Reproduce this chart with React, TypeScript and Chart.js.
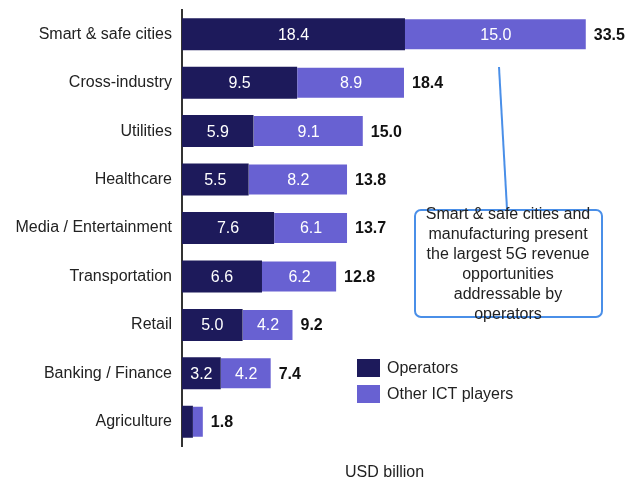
import React, { useEffect, useRef } from "react";
import { Chart, registerables } from "chart.js";

Chart.register(...registerables);

const categories = [
  "Smart & safe cities",
  "Cross-industry",
  "Utilities",
  "Healthcare",
  "Media / Entertainment",
  "Transportation",
  "Retail",
  "Banking / Finance",
  "Agriculture",
];
const operators = [18.4, 9.5, 5.9, 5.5, 7.6, 6.6, 5.0, 3.2, 0.9];
const otherICT = [15.0, 8.9, 9.1, 8.2, 6.1, 6.2, 4.2, 4.2, 0.9];
const totals = ["33.5", "18.4", "15.0", "13.8", "13.7", "12.8", "9.2", "7.4", "1.8"];
const seriesNames = ["Operators", "Other ICT players"];
const seriesColors = ["#1d1a5b", "#6861d2"];
const calloutLines = [
  "Smart & safe cities and",
  "manufacturing present",
  "the largest 5G revenue",
  "opportunities",
  "addressable by",
  "operators",
];
const unitLabel = "USD billion";

const FONT = "Arial, 'Liberation Sans', sans-serif";

const overlayPlugin = {
  id: "overlay",
  afterDatasetsDraw(chart: any) {
    const ctx = chart.ctx;
    ctx.save();
    // inner value labels
    ctx.font = `16px ${FONT}`;
    ctx.textAlign = "center";
    ctx.textBaseline = "middle";
    ctx.fillStyle = "#ffffff";
    chart.data.datasets.forEach((ds: any, di: number) => {
      const meta = chart.getDatasetMeta(di);
      meta.data.forEach((el: any, i: number) => {
        const w = Math.abs(el.x - el.base);
        if (w < 25) return;
        ctx.fillText(ds.data[i].toFixed(1), (el.x + el.base) / 2, el.y + 1);
      });
    });
    // totals
    const last = chart.getDatasetMeta(chart.data.datasets.length - 1);
    ctx.font = `bold 16px ${FONT}`;
    ctx.textAlign = "left";
    ctx.fillStyle = "#111111";
    last.data.forEach((el: any, i: number) => {
      ctx.fillText(totals[i], el.x + 7, el.y + 1);
    });
    ctx.restore();
  },
  afterDraw(chart: any) {
    const ctx = chart.ctx;
    ctx.save();
    // callout connector
    ctx.strokeStyle = "#4a8fe8";
    ctx.lineWidth = 2;
    ctx.beginPath();
    ctx.moveTo(499, 67);
    ctx.lineTo(507, 209);
    ctx.stroke();
    // callout box
    const bx = 415, by = 210, bw = 187, bh = 107, r = 6;
    ctx.beginPath();
    ctx.moveTo(bx + r, by);
    ctx.lineTo(bx + bw - r, by);
    ctx.arcTo(bx + bw, by, bx + bw, by + r, r);
    ctx.lineTo(bx + bw, by + bh - r);
    ctx.arcTo(bx + bw, by + bh, bx + bw - r, by + bh, r);
    ctx.lineTo(bx + r, by + bh);
    ctx.arcTo(bx, by + bh, bx, by + bh - r, r);
    ctx.lineTo(bx, by + r);
    ctx.arcTo(bx, by, bx + r, by, r);
    ctx.closePath();
    ctx.fillStyle = "#ffffff";
    ctx.fill();
    ctx.stroke();
    ctx.fillStyle = "#222222";
    ctx.font = `16px ${FONT}`;
    ctx.textAlign = "center";
    ctx.textBaseline = "middle";
    calloutLines.forEach((line, i) => {
      ctx.fillText(line, 508, 215 + i * 20);
    });
    // legend
    ctx.textAlign = "left";
    seriesNames.forEach((name, i) => {
      const y = 359 + i * 26;
      ctx.fillStyle = seriesColors[i];
      ctx.fillRect(357, y, 23, 18);
      ctx.fillStyle = "#222222";
      ctx.fillText(name, 387, y + 10);
    });
    // unit
    ctx.fillText(unitLabel, 345, 473);
    ctx.restore();
  },
};

export default function App() {
  const ref = useRef<HTMLCanvasElement>(null);
  useEffect(() => {
    if (!ref.current) return;
    const chart = new Chart(ref.current, {
      type: "bar",
      data: {
        labels: categories,
        datasets: [
          {
            label: seriesNames[0],
            data: operators,
            backgroundColor: seriesColors[0],
            borderWidth: 0,
            barPercentage: 0.66,
            categoryPercentage: 1,
          },
          {
            label: seriesNames[1],
            data: otherICT,
            backgroundColor: seriesColors[1],
            borderColor: "rgba(255,255,255,0.35)",
            borderWidth: 1,
            barPercentage: 0.66,
            categoryPercentage: 1,
          },
        ],
      },
      options: {
        indexAxis: "y",
        responsive: false,
        animation: false,
        layout: { padding: { top: 10, bottom: 37, left: 0, right: 4.6 } },
        plugins: { legend: { display: false }, tooltip: { enabled: false } },
        scales: {
          x: { stacked: true, min: 0, max: 37, display: false },
          y: {
            stacked: true,
            grid: { display: false, drawTicks: false, tickLength: 0 },
            border: { display: true, color: "#333333", width: 2 },
            ticks: {
              color: "#222222",
              font: { family: FONT, size: 16 },
              padding: 10,
            },
            afterFit: (scale: any) => {
              scale.width = 182;
              scale.paddingTop = 0;
              scale.paddingBottom = 0;
            },
          },
        },
      },
      plugins: [overlayPlugin],
    } as any);
    return () => chart.destroy();
  }, []);
  return (
    <div style={{ position: "fixed", left: 0, top: 0, width: 635, height: 483, background: "#fff" }}>
      <canvas ref={ref} width={635} height={483} style={{ display: "block" }} />
    </div>
  );
}
